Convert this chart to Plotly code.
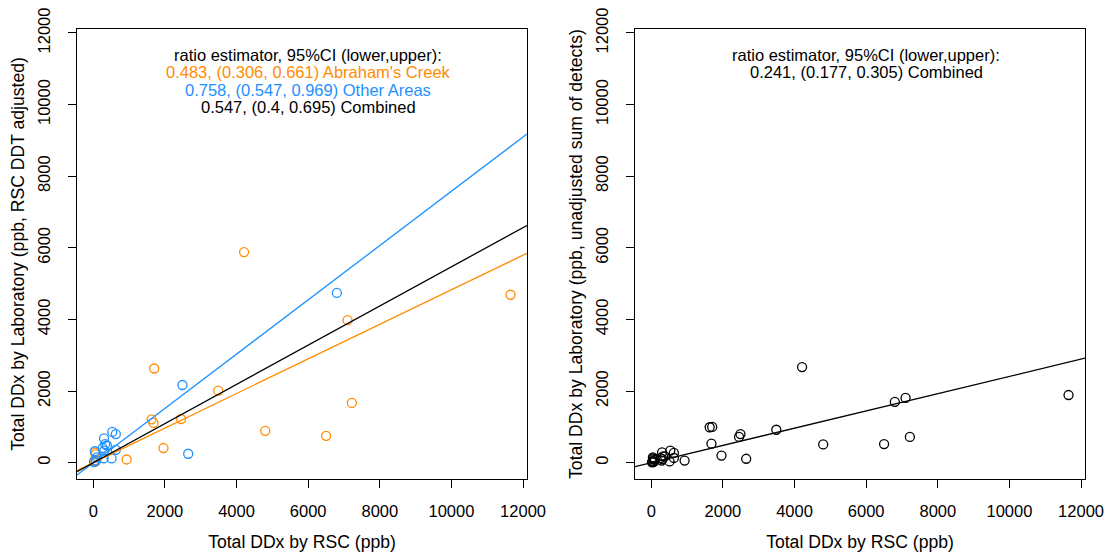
import plotly.graph_objects as go

# ---- data ----
# Abraham's Creek samples
ac_rsc   = [4210, 7100, 11650, 1700, 1630, 1680, 3490, 2450, 7220, 4800, 6500, 1960, 930, 50, 70, 30, 60]
ac_adj   = [5880, 3980, 4690, 2630, 1210, 1110, 2010, 1220, 1670, 890, 750, 410, 90, 280, 230, 60, 30]
ac_unadj = [2670, 1810, 1890, 1000, 990, 530, 920, 720, 720, 510, 520, 200, 60, 120, 100, 30, 20]
# Other Areas samples
oa_rsc   = [6800, 2490, 2650, 530, 630, 300, 330, 380, 260, 310, 630, 510, 290, 20, 80, 45, 100]
oa_adj   = [4740, 2170, 250, 860, 800, 680, 520, 480, 410, 340, 360, 120, 120, 20, 60, 320, 150]
oa_unadj = [1700, 800, 110, 336, 272, 289, 177, 177, 130, 100, 132, 36, 60, 10, 40, 150, 80]

ratio_ac, ratio_oa, ratio_comb = 0.483, 0.758, 0.547
ratio_unadj = 0.241

left_lines = [
    ("ratio estimator, 95%CI (lower,upper):", "black"),
    ("0.483, (0.306, 0.661) Abraham's Creek", "#FF8C00"),
    ("0.758, (0.547, 0.969) Other Areas", "#1E90FF"),
    ("0.547, (0.4, 0.695) Combined", "black"),
]
right_lines = [
    ("ratio estimator, 95%CI (lower,upper):", "black"),
    ("0.241, (0.177, 0.305) Combined", "black"),
]
tick_vals = [0, 2000, 4000, 6000, 8000, 10000, 12000]
axis_range = [-455, 12110]

ORANGE = "#FF8C00"
BLUE = "#1E90FF"
FONT = "Liberation Sans, Arial, sans-serif"
FS = 16.5
FS_TITLE = 17.6

fig = go.Figure()

mk = dict(symbol="circle-open", size=9, line=dict(width=1.3))

# left panel points
fig.add_trace(go.Scatter(x=ac_rsc, y=ac_adj, mode="markers", marker=dict(color=ORANGE, **mk),
                         xaxis="x", yaxis="y", showlegend=False))
fig.add_trace(go.Scatter(x=oa_rsc, y=oa_adj, mode="markers", marker=dict(color=BLUE, **mk),
                         xaxis="x", yaxis="y", showlegend=False))
# ratio lines (through origin, spanning the axis range)
for r, c in [(ratio_ac, ORANGE), (ratio_oa, BLUE), (ratio_comb, "black")]:
    fig.add_trace(go.Scatter(x=axis_range, y=[r * v for v in axis_range], mode="lines",
                             line=dict(color=c, width=1.3), xaxis="x", yaxis="y", showlegend=False))

# right panel
fig.add_trace(go.Scatter(x=ac_rsc + oa_rsc, y=ac_unadj + oa_unadj, mode="markers",
                         marker=dict(color="black", **mk), xaxis="x2", yaxis="y2", showlegend=False))
fig.add_trace(go.Scatter(x=axis_range, y=[ratio_unadj * v for v in axis_range], mode="lines",
                         line=dict(color="black", width=1.3), xaxis="x2", yaxis="y2", showlegend=False))

W, H = 1107, 552
ydom = [1 - 479 / H, 1 - 29 / H]

def xax(dom, anchor):
    return dict(domain=dom, range=axis_range, anchor=anchor, showgrid=False, zeroline=False,
                automargin=False,
                showline=True, mirror=True, linecolor="black", linewidth=1,
                ticks="outside", ticklen=8, tickcolor="black", tickwidth=1,
                tickvals=tick_vals, ticktext=[str(v) for v in tick_vals],
                tickfont=dict(family=FONT, size=FS, color="black"),
                ticklabelstandoff=9,
                title=dict(text="Total DDx by RSC (ppb)", font=dict(family=FONT, size=FS_TITLE, color="black"),
                           standoff=16))

def yax(anchor, title):
    return dict(domain=ydom, range=axis_range, anchor=anchor, showgrid=False, zeroline=False,
                automargin=False,
                showline=True, mirror=True, linecolor="black", linewidth=1,
                ticks="outside", ticklen=8, tickcolor="black", tickwidth=1,
                tickvals=tick_vals, ticktext=[str(v) for v in tick_vals], tickangle=-90,
                tickfont=dict(family=FONT, size=FS, color="black"),
                ticklabelstandoff=11,
                title=dict(text=title, font=dict(family=FONT, size=FS_TITLE, color="black"), standoff=6))

annotations = []
for i, (t, c) in enumerate(left_lines):
    annotations.append(dict(text=t, x=308 / W, y=1 - (55 + 17.3 * i) / H, xref="paper", yref="paper",
                            xanchor="center", yanchor="middle", showarrow=False,
                            font=dict(family=FONT, size=FS, color=c)))
for i, (t, c) in enumerate(right_lines):
    annotations.append(dict(text=t, x=866 / W, y=1 - (55 + 17.3 * i) / H, xref="paper", yref="paper",
                            xanchor="center", yanchor="middle", showarrow=False,
                            font=dict(family=FONT, size=FS, color=c)))

fig.update_layout(
    width=W, height=H, margin=dict(l=0, r=0, t=0, b=0, autoexpand=False),
    paper_bgcolor="white", plot_bgcolor="white",
    xaxis=xax([77 / W, 527 / W], "y"),
    yaxis=yax("x", "Total DDx by Laboratory (ppb, RSC DDT adjusted)"),
    xaxis2=xax([635 / W, 1085 / W], "y2"),
    yaxis2=yax("x2", "Total DDx by Laboratory (ppb, unadjusted sum of detects)"),
    annotations=annotations,
)

fig.write_html("out.html")
